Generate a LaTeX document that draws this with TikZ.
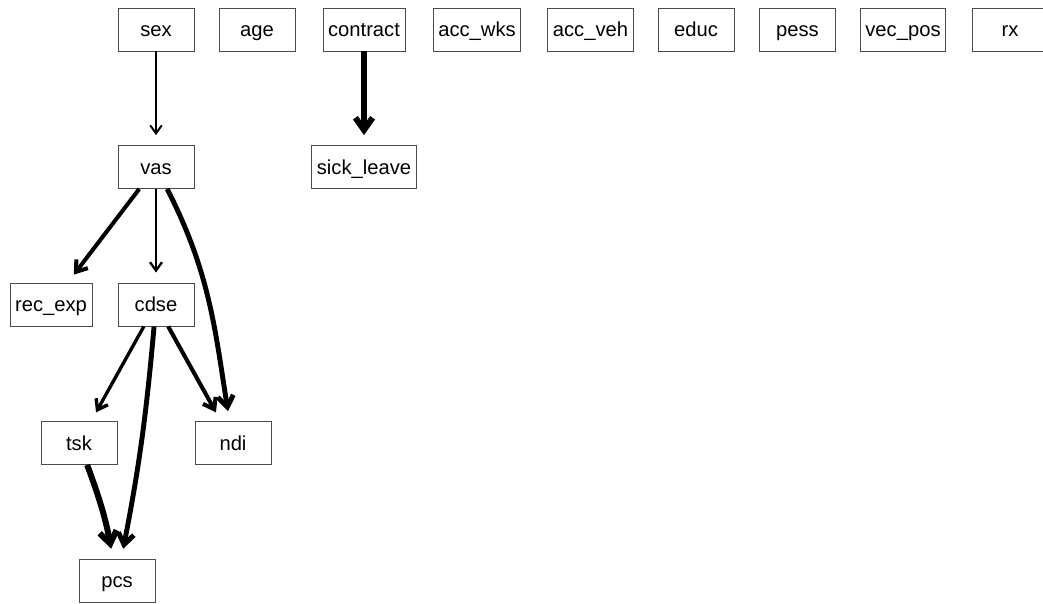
\documentclass[tikz,border=0pt]{standalone}
\usepackage{fontspec}
\setmainfont{Liberation Sans}
\usetikzlibrary{arrows.meta}

\begin{document}
\begin{tikzpicture}[x=0.02cm,y=-0.02cm,
  var/.style={draw=black!70,line width=0.5pt,minimum width=1.52cm,minimum height=0.86cm,
    inner xsep=0.1cm,text height=10.5pt,text depth=2pt,font=\fontsize{11.5}{13}\selectfont},
  link/.style={-{Straight Barb[length=3.5pt 1,width=5pt 1.4]},line join=round,shorten >=2mm}]
  \useasboundingbox (0,0) rectangle (1043,603);
  % Top row
  \node[var] (sex) at (156,29.5) {sex};
  \node[var] (age) at (257,29.5) {age};
  \node[var] (contract) at (364,29.5) {contract};
  \node[var] (accwks) at (477,29.5) {acc\_wks};
  \node[var] (accveh) at (590.5,29.5) {acc\_veh};
  \node[var] (educ) at (696,29.5) {educ};
  \node[var] (pess) at (797.5,29.5) {pess};
  \node[var] (vecpos) at (903,29.5) {vec\_pos};
  \node[var] (rx) at (1010,29.5) {rx};
  % Lower levels
  \node[var] (vas) at (156,167) {vas};
  \node[var] (sick) at (364,167) {sick\_leave};
  \node[var] (recexp) at (51,304.5) {rec\_exp};
  \node[var] (cdse) at (156,304.5) {cdse};
  \node[var] (tsk) at (79,443) {tsk};
  \node[var] (ndi) at (233,443) {ndi};
  \node[var] (pcs) at (117,580.5) {pcs};
  % Edges
  \draw[link,line width=1.1pt] (sex) -- (vas);
  \draw[link,line width=3.4pt] (contract) -- (sick);
  \draw[link,line width=2.3pt] (vas) -- (recexp);
  \draw[link,line width=1.3pt] (vas) -- (cdse);
  \draw[link,line width=2.8pt] (vas) to[out=-63,in=99] (ndi);
  \draw[link,line width=1.9pt] (cdse) -- (tsk);
  \draw[link,line width=2.3pt] (cdse) -- (ndi);
  \draw[link,line width=2.8pt] (cdse) to[bend left=3] (pcs);
  \draw[link,line width=3.4pt] (tsk) to[bend left=5] (pcs);
\end{tikzpicture}
\end{document}
